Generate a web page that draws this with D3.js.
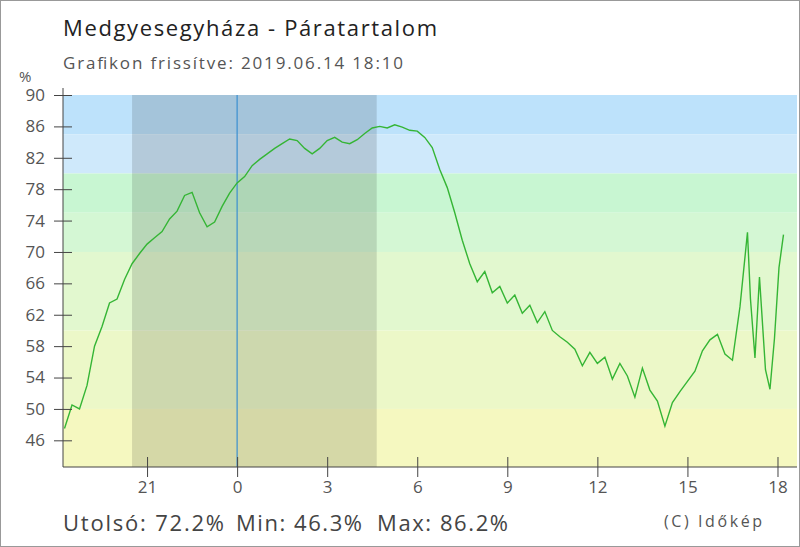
<!DOCTYPE html>
<html><head><meta charset="utf-8">
<script src="https://cdn.jsdelivr.net/npm/d3@7"></script>
<style>body{margin:0;background:#fff}svg{display:block;font-family:"Open Sans",sans-serif}</style>
</head><body><svg id="c" width="800" height="547"></svg>
<script>
// hours relative to midnight, humidity %
const hours = [-5.75,-5.5,-5.25,-5,-4.75,-4.5,-4.25,-4,-3.75,-3.5,-3.25,-3,-2.75,-2.5,-2.25,-2,-1.75,-1.5,-1.25,-1,-0.75,-0.5,-0.25,0,
  0.25,0.5,0.75,1,1.25,1.5,1.75,2,2.25,2.5,2.75,3,3.25,3.5,3.75,4,4.25,4.5,4.75,5,5.25,5.5,5.75,6,6.25,6.5,6.75,7,7.25,7.5,7.75,8,
  8.25,8.5,8.75,9,9.25,9.5,9.75,10,10.25,10.5,10.75,11,11.25,11.5,11.75,12,12.25,12.5,12.75,13,13.25,13.5,13.75,14,14.25,14.5,14.75,
  15,15.25,15.5,15.75,16,16.25,16.5,16.75,17,17.1,17.25,17.4,17.6,17.75,17.9,18.05,18.2]
const humidity = [47.5,50.5,50,53,58,60.5,63.5,64,66.5,68.5,69.8,71,71.8,72.6,74.2,75.2,77.2,77.6,75,73.2,73.8,75.8,77.5,78.8,
  79.6,81,81.8,82.5,83.2,83.8,84.4,84.2,83.2,82.5,83.2,84.2,84.6,84,83.8,84.3,85.1,85.8,86,85.8,86.2,85.9,85.5,85.4,84.6,83.3,80.5,78.2,75,71.5,68.5,66.2,
  67.5,64.8,65.6,63.5,64.5,62.2,63.2,61,62.4,60,59.2,58.5,57.6,55.5,57.2,55.8,56.6,53.8,55.8,54.2,51.5,55.2,52.4,51,47.8,50.8,52.2,
  53.5,54.8,57.4,58.8,59.5,57,56.2,63,72.5,64,56.5,66.8,55,52.5,59,68,72.2]
const yTicks = [46,50,54,58,62,66,70,74,78,82,86,90]
const xTicks = [-3,0,3,6,9,12,15,18]
const xLabels = ["21","0","3","6","9","12","15","18"]
const bands = [[85,90,"#bde2fb"],[80,85,"#cfe9fb"],[75,80,"#c8f6d2"],[70,75,"#d4f7d4"],[60,70,"#e2f8cf"],[50,60,"#ecf8c8"],[40,50,"#f5f8c0"]]
const night = [-3.5, 4.65]

const svg = d3.select("#c")
const x = d3.scaleLinear().domain([-5.8, 18.65]).range([63, 797])
const y = d3.scaleLinear().domain([42.6, 90]).range([467, 95])

svg.append("rect").attr("x",0.5).attr("y",0.5).attr("width",799).attr("height",546).attr("fill","none").attr("stroke","#999")

svg.append("clipPath").attr("id","pc").append("rect")
  .attr("x",63).attr("y",95).attr("width",734).attr("height",372)
const plot = svg.append("g").attr("clip-path","url(#pc)")

plot.selectAll(".band").data(bands).join("rect")
  .attr("x",63).attr("width",734)
  .attr("y",d => y(d[1])).attr("height",d => y(d[0]) - y(d[1]))
  .attr("fill",d => d[2])

plot.append("rect").attr("x",x(night[0])).attr("width",x(night[1]) - x(night[0]))
  .attr("y",95).attr("height",372).attr("fill","#000").attr("opacity",0.13)

plot.append("line").attr("x1",x(0)).attr("x2",x(0)).attr("y1",95).attr("y2",467)
  .attr("stroke","#3a8fd0").attr("stroke-width",1.2)

const line = d3.line().x((d,i) => x(hours[i])).y(d => y(d))
plot.append("path").datum(humidity).attr("d",line)
  .attr("fill","none").attr("stroke","#35b535").attr("stroke-width",1.4)

// axes
const yAxis = svg.append("g").attr("transform","translate(63,0)")
  .call(d3.axisLeft(y).tickValues(yTicks).tickSize(0).tickPadding(18))
yAxis.select(".domain").remove()
yAxis.selectAll("text").attr("font-size",17).attr("fill","#555").attr("font-family","Open Sans")
yAxis.selectAll(".tick").append("line").attr("x1",-9).attr("x2",9).attr("stroke","#444")
svg.append("line").attr("x1",63).attr("x2",63).attr("y1",88).attr("y2",467).attr("stroke","#444")

const xAxis = svg.append("g").attr("transform","translate(0,467)")
  .call(d3.axisBottom(x).tickValues(xTicks).tickFormat((d,i) => xLabels[i]).tickSize(0).tickPadding(14))
xAxis.select(".domain").remove()
xAxis.selectAll("text").attr("font-size",17).attr("fill","#555").attr("font-family","Open Sans")
xAxis.selectAll(".tick").append("line").attr("y1",-10).attr("y2",10).attr("stroke","#444")
svg.append("line").attr("x1",63).attr("x2",797).attr("y1",467).attr("y2",467).attr("stroke","#444")

svg.append("text").attr("x",19).attr("y",82).attr("font-size",15).attr("fill","#555").text("%")

svg.append("text").attr("x",63).attr("y",36).attr("font-size",22).attr("fill","#222")
  .attr("textLength",374).text("Medgyesegyháza - Páratartalom")
svg.append("text").attr("x",63).attr("y",69).attr("font-size",17).attr("fill","#555")
  .attr("textLength",340).text("Grafikon frissítve: 2019.06.14 18:10")
const stats = [["Utolsó: 72.2%",63,161],["Min: 46.3%",236,126],["Max: 86.2%",377,131]]
svg.selectAll(".stat").data(stats).join("text")
  .attr("x",d => d[1]).attr("y",531).attr("font-size",22).attr("fill","#444")
  .attr("textLength",d => d[2]).text(d => d[0])
svg.append("text").attr("x",664).attr("y",527).attr("font-size",16).attr("fill","#555")
  .attr("textLength",98).text("(C) Időkép")
</script></body></html>
